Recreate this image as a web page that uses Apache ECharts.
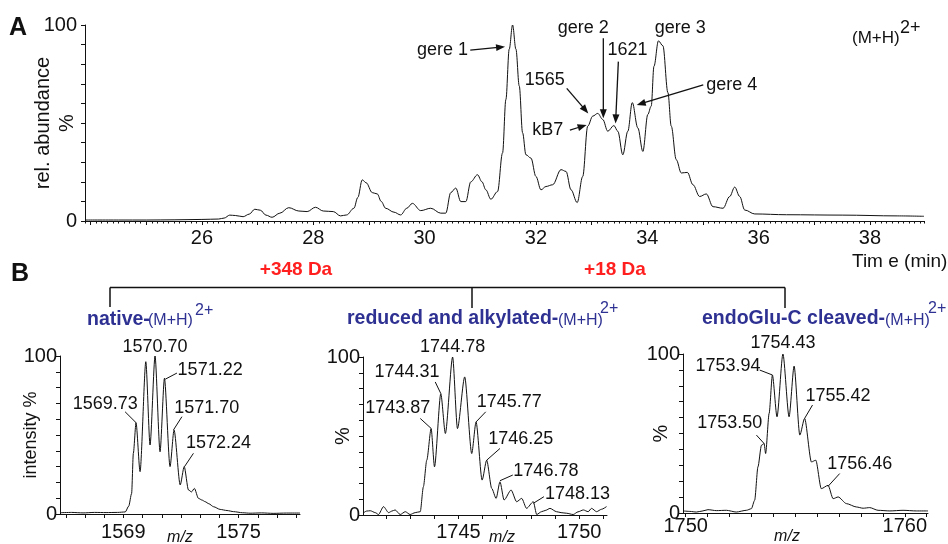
<!DOCTYPE html>
<html>
<head>
<meta charset="utf-8">
<script src="https://cdn.jsdelivr.net/npm/echarts@6/dist/echarts.min.js"></script>
<style>
  html, body { margin: 0; padding: 0; background: #fff; }
  #chart { width: 948px; height: 544px; }
</style>
</head>
<body>
<div id="chart"></div>
<script>
// panel A: (M+H)2+ extracted chromatogram
const timeMin = [23.9,24.5,25.0,25.5,26.0,26.3,26.4,26.5,26.6,26.74,
  26.85,26.95,27.05,27.15,27.26,27.4,27.56,27.74,27.89,28.04,
  28.18,28.36,28.49,28.6,28.73,28.8,28.88,28.95,29.06,29.15,
  29.22,29.3,29.45,29.57,29.68,29.78,29.93,30.11,30.29,30.38,
  30.47,30.56,30.65,30.74,30.83,30.95,31.03,31.1,31.19,31.31,
  31.4,31.46,31.52,31.58,31.64,31.7,31.76,31.82,31.91,32.0,
  32.09,32.18,32.3,32.45,32.54,32.63,32.74,32.84,32.93,33.02,
  33.11,33.2,33.29,33.4,33.47,33.56,33.65,33.73,33.83,33.92,
  34.01,34.07,34.12,34.2,34.28,34.37,34.43,34.52,34.61,34.72,
  34.82,34.94,35.06,35.18,35.36,35.48,35.57,35.66,35.75,35.93,
  36.5,37.5,38.5,38.97];
const relAbundance = [0.5,0.5,0.5,0.6,0.8,1.0,1.5,3.0,2.8,2.2,
  3.5,6.0,5.5,3.0,1.9,4.0,6.8,5.1,4.8,7.0,
  5.1,4.8,2.6,3.1,6.5,12,21,19.5,14.5,13.8,
  10,6.5,4.5,3.1,6.5,9,5.3,6.5,4,4,
  14.5,16.8,9.9,9.9,20,23.6,20,15.9,11.1,15,
  34.7,62,87.7,100,87.7,68.9,45,33.8,32.1,22.7,
  15.9,17.6,18.5,26.2,25.3,15.9,9.4,22.7,48.4,53.5,
  54.9,51.8,45.8,48.7,45.8,33.8,45.8,60.4,47.5,35.5,
  54.4,58.6,79,91.9,89.4,65.5,48.4,31.3,24.5,24.8,
  18.5,12.5,13.8,7.3,6.5,12.5,17.3,12.5,5.6,3.6,
  3.2,3.0,2.6,2.4];
const timeTicks = [24,25,26,27,28,29,30,31,32,33,34,35,36,37,38];
const timeLabels = [26,28,30,32,34,36,38];

// panel B: isotope envelopes
const nativeMz = [1565.7,1566.3,1566.9,1567.5,1568.1,1568.7,1569.1,1569.28,1569.43,1569.52,
  1569.66,1569.87,1570.17,1570.39,1570.65,1570.91,1571.14,1571.43,1571.64,1571.96,
  1572.17,1572.39,1572.55,1572.7,1572.91,1573.1,1573.26,1573.45,1573.7,1574.04,
  1574.4,1574.74,1575.2,1575.6,1576.2,1576.8,1577.5,1578.2];
const nativeInt = [0.8,1.0,0.7,1.0,0.9,1.0,1.3,5,13,38.4,
  57.8,26.8,96.4,43.7,100,39.4,85.9,30,53.2,18.4,
  30,15.2,14,16.2,9.9,8.8,7.8,6.5,4.6,2.9,
  2.2,1.5,0.8,0.5,0.7,0.4,0.6,0.6];
const nativeTicks = [1566,1567,1568,1569,1570,1571,1572,1573,1574,1575,1576,1577,1578];
const nativeLabels = [1569,1575];

const reducedMz = [1741.05,1741.2,1741.35,1741.56,1741.69,1741.9,1742.11,1742.25,1742.38,1742.59,
  1742.8,1743.0,1743.21,1743.42,1743.55,1743.69,1743.87,1744.01,1744.27,1744.46,
  1744.76,1744.96,1745.26,1745.55,1745.73,1745.98,1746.17,1746.38,1746.56,1746.72,
  1746.89,1747.18,1747.41,1747.62,1747.82,1748.1,1748.24,1748.44,1748.62,1748.79,
  1749.06,1749.25,1749.48,1749.75,1749.95,1750.17,1750.37,1750.51,1750.72,1750.92,1751.13];
const reducedInt = [1.1,2.5,2.7,1.5,0.3,5.3,1.5,2.5,3.2,0.3,
  2.1,0.3,1.5,2.1,17.9,34.7,54.7,30.5,76.8,51.6,
  100,54.7,87.4,38.9,58.9,22.1,34.7,16.8,10.5,21,
  9.5,15.8,8.4,10.5,4.2,8.4,0.3,2.1,3,4.2,
  2.1,1.5,1.1,0.3,2,3.2,2.1,4.2,2.1,3.6,5.3];
const reducedTicks = [1742,1743,1744,1745,1746,1747,1748,1749,1750,1751];
const reducedLabels = [1745,1750];

const cleavedMz = [1749.88,1750.2,1750.49,1750.75,1751.02,1751.4,1751.86,1752.31,1752.77,1753.0,
  1753.15,1753.3,1753.46,1753.58,1753.65,1753.81,1753.96,1754.17,1754.44,1754.72,
  1754.95,1755.21,1755.43,1755.74,1755.94,1756.19,1756.5,1756.73,1756.96,1757.34,
  1757.79,1758.1,1758.4,1758.78,1759.32,1759.92,1760.53,1761.06];
const cleavedInt = [1.3,1.0,0.6,1.2,2.1,1.5,1.7,0.6,1.7,2.7,
  8,29,42.6,43.7,37.4,62.6,86.8,60.5,100,60.5,
  92.4,49,59.5,32.1,33.2,15.3,17.4,9,10.1,5.9,
  3.8,3.0,3.4,1.7,1.3,1.7,1.3,1.3];
const cleavedTicks = [1750,1751,1752,1753,1754,1755,1756,1757,1758,1759,1760,1761];
const cleavedLabels = [1750,1760];

// annotations, anchored in data units of their panel
const chromNotes = [
  { text: 'gere 1', at: [30.78, 87.2], align: 'right', from: [30.82, 87.2], to: [31.445, 88.9] },
  { text: 'gere 2', at: [32.85, 98.4], align: 'center', from: [33.21, 93.2], to: [33.21, 52.4] },
  { text: '1621', at: [33.645, 87.2], align: 'center', from: [33.48, 81.3], to: [33.43, 49.8] },
  { text: '1565', at: [32.16, 71.9], align: 'center', from: [32.553, 67.7], to: [32.94, 54.9] },
  { text: 'kB7', at: [32.21, 46.4], align: 'center', from: [32.61, 46.4], to: [32.91, 49] },
  { text: 'gere 3', at: [34.59, 98.4], align: 'center' },
  { text: 'gere 4', at: [35.06, 69.4], align: 'left', from: [35.005, 69.4], to: [33.81, 59.2] }
];
const nativeNotes = [
  { text: '1569.73', at: [1568.06, 69.4], from: [1569.09, 64.7], to: [1569.66, 57.8] },
  { text: '1570.70', at: [1570.65, 105.9] },
  { text: '1571.22', at: [1573.52, 91.1], from: [1571.79, 89.2], to: [1571.18, 85.3] },
  { text: '1571.70', at: [1573.34, 67.1], from: [1572.05, 61.6], to: [1571.61, 53.2] },
  { text: '1572.24', at: [1573.96, 44.7], from: [1572.65, 38.4], to: [1572.18, 29.9] }
];
const reducedNotes = [
  { text: '1744.78', at: [1744.76, 106.3] },
  { text: '1744.31', at: [1742.87, 90.5], from: [1744.04, 84.2], to: [1744.27, 76.9] },
  { text: '1743.87', at: [1742.49, 67.4], from: [1743.42, 61.1], to: [1743.87, 54.8] },
  { text: '1745.77', at: [1747.1, 71.6], from: [1746.13, 65.3], to: [1745.73, 58.9] },
  { text: '1746.25', at: [1747.58, 47.8], from: [1746.72, 42.1], to: [1746.17, 34.7] },
  { text: '1746.78', at: [1748.62, 27.8], from: [1747.25, 25.3], to: [1746.72, 21.7] },
  { text: '1748.13', at: [1749.93, 13.3], from: [1748.54, 11.6], to: [1748.1, 7.4] }
];
const cleavedNotes = [
  { text: '1754.43', at: [1754.44, 106.7] },
  { text: '1753.94', at: [1751.93, 92.4], from: [1753.38, 89.9], to: [1753.96, 86.8] },
  { text: '1755.42', at: [1756.95, 73.5], from: [1755.79, 67.9], to: [1755.43, 59.5] },
  { text: '1753.50', at: [1752.01, 56.3], from: [1753.23, 49], to: [1753.58, 43.7] },
  { text: '1756.46', at: [1757.95, 31.1], from: [1757.03, 24.8], to: [1756.5, 16.8] }
];

const FONT = '"Liberation Sans", Arial, sans-serif';
const INK = '#111';
const BLUE = '#2e3192';
const RED = '#ff1f1f';

const zip = (xs, ys) => xs.map((x, i) => [x, ys[i]]);

function yAxisFor(grid, name, gap, margin, nameSize) {
  return {
    type: 'value', gridIndex: grid, min: 0, max: 100, interval: 10,
    axisLine: { show: true, lineStyle: { color: INK, width: 1 } },
    axisTick: { show: true, length: 4, lineStyle: { color: INK } },
    splitLine: { show: false },
    axisLabel: {
      margin: margin, fontSize: 20, color: INK, fontFamily: FONT,
      formatter: v => (v === 0 || v === 100) ? String(v) : ''
    },
    name: name, nameLocation: 'middle', nameRotate: 90, nameGap: gap,
    nameMoveOverlap: false,
    nameTextStyle: { fontSize: nameSize, color: INK, fontFamily: FONT, lineHeight: 24 }
  };
}

function xAxisFor(grid, min, max, ticks, labels, margin) {
  return {
    type: 'value', gridIndex: grid, min: min, max: max, position: 'bottom',
    axisLine: { show: true, onZero: false, lineStyle: { color: INK, width: 1 } },
    axisTick: { show: true, length: 4, customValues: ticks, lineStyle: { color: INK } },
    axisLabel: {
      customValues: labels, margin: margin, fontSize: 20, color: INK, fontFamily: FONT,
      formatter: v => String(v)
    },
    splitLine: { show: false }
  };
}

function trace(idx, data, smooth) {
  return {
    type: 'line', xAxisIndex: idx, yAxisIndex: idx, data: data,
    symbol: 'none', smooth: smooth, smoothMonotone: 'x',
    lineStyle: { color: INK, width: 1 }, silent: true
  };
}

const chart = echarts.init(document.getElementById('chart'), null, { renderer: 'canvas' });

chart.setOption({
  animation: false,
  backgroundColor: '#fff',
  grid: [
    { left: 85, top: 25, width: 839, height: 196, outerBoundsMode: 'none' },
    { left: 60, top: 356, width: 240, height: 158, outerBoundsMode: 'none' },
    { left: 363, top: 357, width: 244, height: 158, outerBoundsMode: 'none' },
    { left: 683, top: 354, width: 245, height: 159, outerBoundsMode: 'none' }
  ],
  xAxis: [
    xAxisFor(0, 23.9, 38.97, timeTicks, timeLabels, 7),
    xAxisFor(1, 1565.7, 1578.2, nativeTicks, nativeLabels, 8),
    xAxisFor(2, 1741.05, 1751.15, reducedTicks, reducedLabels, 7),
    xAxisFor(3, 1749.88, 1761.06, cleavedTicks, cleavedLabels, 3),
    {
      // fine 0.1 min ticks of the time axis
      type: 'value', gridIndex: 0, min: 23.9, max: 38.97, interval: 0.1, position: 'bottom',
      axisLine: { show: false, onZero: false },
      axisTick: { show: true, length: 2.5, lineStyle: { color: INK } },
      axisLabel: { show: false }, splitLine: { show: false }
    }
  ],
  yAxis: [
    yAxisFor(0, 'rel. abundance\n%', 6, 8, 20),
    yAxisFor(1, 'intensity %', 17, 3, 18),
    yAxisFor(2, '%', 8, 3, 20),
    yAxisFor(3, '%', 10, 3, 20)
  ],
  series: [
    trace(0, zip(timeMin, relAbundance), 0.35),
    trace(1, zip(nativeMz, nativeInt), 0.25),
    trace(2, zip(reducedMz, reducedInt), 0.25),
    trace(3, zip(cleavedMz, cleavedInt), 0.25)
  ]
});

// ---- annotations ----
const at = (idx, p) => chart.convertToPixel({ xAxisIndex: idx, yAxisIndex: idx }, p);

function text(x, y, str, font, fill, align, extra) {
  return Object.assign({
    type: 'text', x: x, y: y, silent: true,
    style: { text: str, font: font, fill: fill || INK, align: align || 'center', verticalAlign: 'middle' }
  }, extra || {});
}

function line(p0, p1, w) {
  return {
    type: 'line', silent: true,
    shape: { x1: p0[0], y1: p0[1], x2: p1[0], y2: p1[1] },
    style: { stroke: INK, lineWidth: w || 1 }
  };
}

function arrow(p0, p1) {
  const dx = p1[0] - p0[0], dy = p1[1] - p0[1];
  const len = Math.hypot(dx, dy);
  const ux = dx / len, uy = dy / len, L = 9, W = 3.5;
  const bx = p1[0] - ux * L, by = p1[1] - uy * L;
  return [
    line(p0, [bx + ux * 2, by + uy * 2], 1.3),
    {
      type: 'polygon', silent: true,
      shape: { points: [[p1[0], p1[1]], [bx - uy * W, by + ux * W], [bx + uy * W, by - ux * W]] },
      style: { fill: INK }
    }
  ];
}

const els = [];
const noteFont = '18px ' + FONT;

chromNotes.forEach(n => {
  const p = at(0, n.at);
  els.push(text(p[0], p[1], n.text, noteFont, INK, n.align));
  if (n.from) els.push(...arrow(at(0, n.from), at(0, n.to)));
});

[[1, nativeNotes], [2, reducedNotes], [3, cleavedNotes]].forEach(([idx, notes]) => {
  notes.forEach(n => {
    const p = at(idx, n.at);
    els.push(text(p[0], p[1], n.text, noteFont));
    if (n.from) els.push(line(at(idx, n.from), at(idx, n.to), 1));
  });
});

// panel letters, axis captions
els.push(text(18, 28, 'A', 'bold 25px ' + FONT));
els.push(text(20, 274, 'B', 'bold 25px ' + FONT));
els.push(text(852, 38, '(M+H)', '17px ' + FONT, INK, 'left'));
els.push(text(900, 28, '2+', '18px ' + FONT, INK, 'left'));
els.push(text(852, 262, 'Tim e (min)', '19px ' + FONT, INK, 'left'));
els.push(text(180, 538, 'm/z', 'italic 16px ' + FONT));
els.push(text(502, 538, 'm/z', 'italic 16px ' + FONT));
els.push(text(787, 537, 'm/z', 'italic 16px ' + FONT));

// mass-shift bracket
els.push(line([110, 287.5], [785, 287.5], 1.5));
els.push(line([110, 287.5], [110, 307], 1.5));
els.push(line([472, 287.5], [472, 308], 1.5));
els.push(line([785, 287.5], [785, 308], 1.5));
els.push(text(296, 270, '+348 Da', 'bold 19px ' + FONT, RED));
els.push(text(615, 270, '+18 Da', 'bold 19px ' + FONT, RED));

// spectrum titles
els.push(text(87, 320, 'native-', 'bold 19.5px ' + FONT, BLUE, 'left'));
els.push(text(148, 321, '(M+H)', '16px ' + FONT, BLUE, 'left'));
els.push(text(195, 311, '2+', '16px ' + FONT, BLUE, 'left'));
els.push(text(347, 319, 'reduced and alkylated-', 'bold 19.5px ' + FONT, BLUE, 'left'));
els.push(text(558, 321, '(M+H)', '16px ' + FONT, BLUE, 'left'));
els.push(text(600, 309, '2+', '16px ' + FONT, BLUE, 'left'));
els.push(text(702, 319, 'endoGlu-C cleaved-', 'bold 19.5px ' + FONT, BLUE, 'left'));
els.push(text(885, 321, '(M+H)', '16px ' + FONT, BLUE, 'left'));
els.push(text(928, 309, '2+', '16px ' + FONT, BLUE, 'left'));

chart.setOption({ graphic: { elements: els } });
</script>
</body>
</html>
